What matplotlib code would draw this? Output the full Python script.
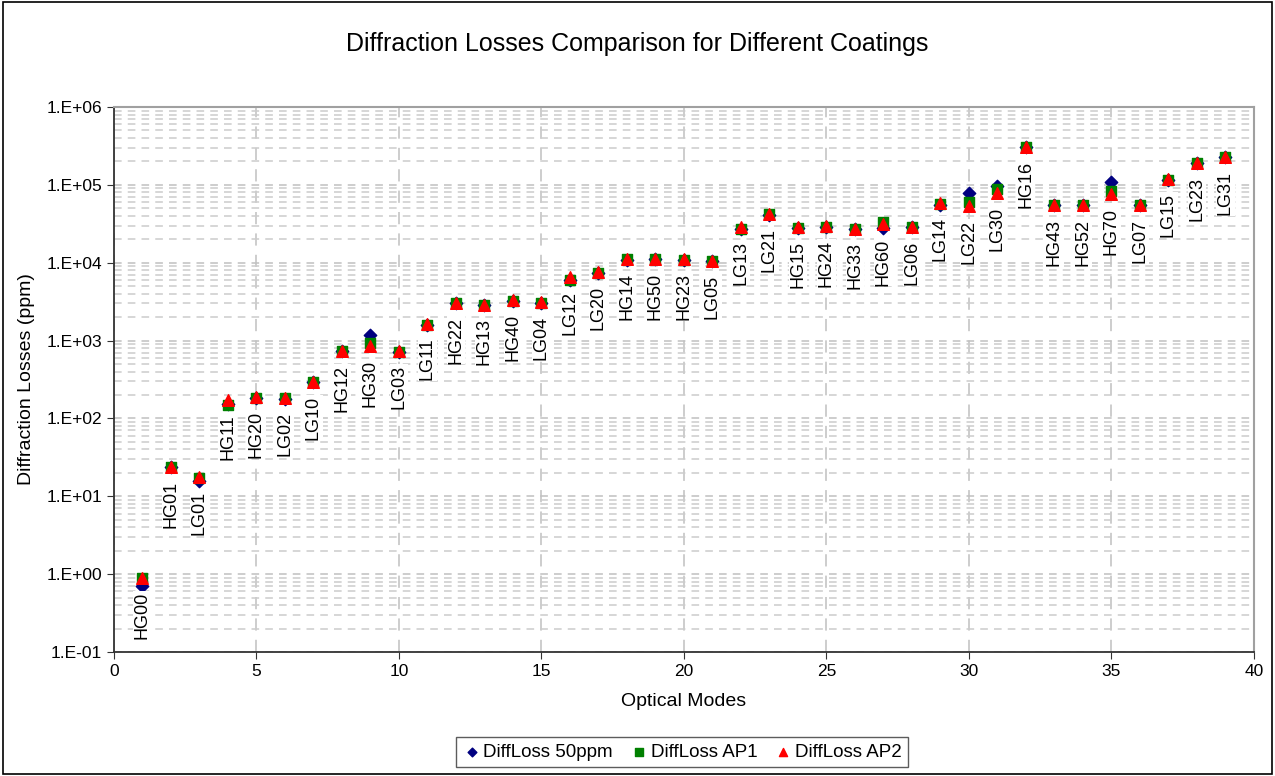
import math
import matplotlib
matplotlib.use('Agg')
import matplotlib.pyplot as plt
from matplotlib.patches import Rectangle
from matplotlib.ticker import LogLocator, FixedLocator, FuncFormatter

plt.rcParams['font.family'] = ['Liberation Sans', 'DejaVu Sans']

# --- data ---
modes = list(range(1, 40))
labels = ["HG00", "HG01", "LG01", "HG11", "HG20", "LG02", "LG10", "HG12", "HG30", "LG03",
          "LG11", "HG22", "HG13", "HG40", "LG04", "LG12", "LG20", "HG14", "HG50", "HG23",
          "LG05", "LG13", "LG21", "HG15", "HG24", "HG33", "HG60", "LG06", "LG14", "LG22",
          "LG30", "HG16", "HG43", "HG52", "HG70", "LG07", "LG15", "LG23", "LG31"]
loss_50ppm = [0.7, 24, 15.5, 155, 185, 180, 290, 740, 1180, 720,
              1600, 3000, 2850, 3250, 3050, 6000, 7300, 10800, 11000, 10900,
              10400, 27000, 41000, 28000, 29000, 27000, 28000, 28500, 55000, 78000,
              98000, 310000, 55500, 55500, 109000, 55500, 117000, 190000, 228000]
loss_ap1 = [0.88, 24, 17, 150, 185, 182, 290, 730, 930, 720,
            1600, 3000, 2850, 3250, 3050, 6000, 7300, 11000, 11200, 10900,
            10400, 27000, 42000, 28000, 29000, 27000, 33000, 28500, 57000, 60000,
            88000, 310000, 55000, 55000, 83000, 55000, 117000, 190000, 228000]
loss_ap2 = [0.9, 24, 17.5, 170, 190, 185, 295, 730, 860, 740,
            1650, 3050, 2900, 3300, 3100, 6500, 7600, 11000, 11200, 11000,
            10500, 29000, 42000, 28500, 29500, 27500, 31000, 29000, 58000, 53000,
            78000, 310000, 55000, 55000, 76000, 55000, 118000, 192000, 225000]

fig = plt.figure(figsize=(12.75, 7.76), dpi=100)
ax = fig.add_axes([0.0894, 0.1598, 0.8941, 0.7023])

ax.scatter(modes, loss_50ppm, marker='D', s=40, color='#000080', label='DiffLoss 50ppm', zorder=3)
ax.scatter(modes, loss_ap1, marker='s', s=55, color='#008000', label='DiffLoss AP1', zorder=4)
ax.scatter(modes, loss_ap2, marker='^', s=70, color='#ff0000', label='DiffLoss AP2', zorder=5)

# data labels below the AP2 points
for x, y, lab in zip(modes, loss_ap2, labels):
    ax.annotate(lab, (x, y), xytext=(0, -10), textcoords='offset points',
                rotation=90, ha='center', va='top', fontsize=13,
                bbox=dict(facecolor='white', edgecolor='none', pad=0.5), zorder=6)

ax.set_yscale('log')
ax.set_ylim(0.1, 1e6)
ax.set_xlim(0, 40)
ax.xaxis.set_major_locator(FixedLocator(range(0, 41, 5)))
ax.yaxis.set_major_locator(LogLocator(base=10, numticks=10))
ax.yaxis.set_minor_locator(LogLocator(base=10, subs=range(2, 10), numticks=100))
ax.yaxis.set_major_formatter(FuncFormatter(lambda v, p: "1.E%+03d" % round(math.log10(v))))
ax.yaxis.set_minor_formatter(FuncFormatter(lambda v, p: ""))

ax.tick_params(axis='both', which='major', direction='out', length=5, labelsize=12.5, color='#333333')
ax.tick_params(axis='y', which='minor', length=0)
ax.grid(True, which='major', axis='y', color='#c0c0c0', linestyle=(0, (5, 4)), linewidth=1.1)
ax.grid(True, which='minor', axis='y', color='#cccccc', linestyle=(0, (5, 4)), linewidth=1.1)
ax.grid(True, which='major', axis='x', color='#c0c0c0', linestyle=(0, (8, 6)), linewidth=1.1)
ax.set_axisbelow(True)

for side in ['top', 'right']:
    ax.spines[side].set_color('#a0a0a0')
    ax.spines[side].set_linewidth(1.5)
for side in ['left', 'bottom']:
    ax.spines[side].set_color('#333333')
    ax.spines[side].set_linewidth(1.3)

ax.set_xlabel("Optical Modes", fontsize=14, labelpad=10)
ax.set_ylabel("Diffraction Losses (ppm)", fontsize=14, labelpad=8)
fig.text(0.5, 0.943, "Diffraction Losses Comparison for Different Coatings",
         ha='center', va='center', fontsize=18)

leg = fig.legend(*ax.get_legend_handles_labels(), loc='center', bbox_to_anchor=(0.535, 0.031),
                 ncol=3, fontsize=13.5, frameon=True, fancybox=False, edgecolor='#333333',
                 handletextpad=0.1, columnspacing=0.9, borderpad=0.35, handlelength=1.0,
                 markerscale=0.7)
leg.get_frame().set_linewidth(1.0)

fig.patches.append(Rectangle((0.002, 0.002), 0.996, 0.996, transform=fig.transFigure,
                             fill=False, edgecolor='black', linewidth=1.2))

plt.savefig('out.png', dpi=100)
plt.close(fig)
